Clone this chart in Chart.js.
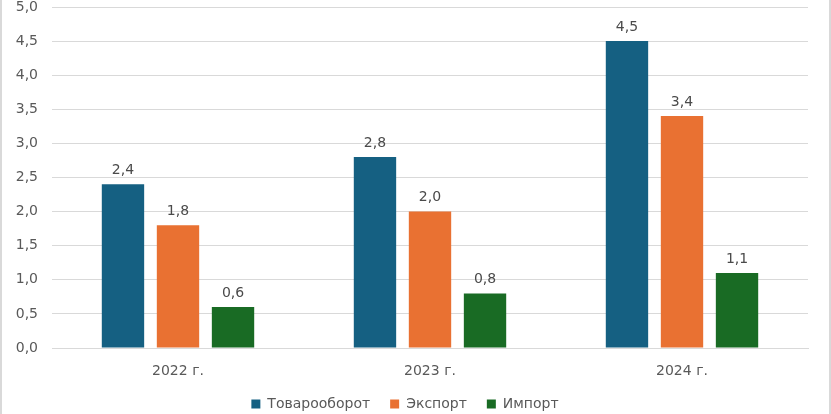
<!DOCTYPE html>
<html>
<head>
<meta charset="utf-8">
<script src="https://cdn.jsdelivr.net/npm/chart.js@4"></script>
<style>
  html, body { margin: 0; padding: 0; background: #fff; }
  #wrap {
    position: relative;
    width: 831px;
    height: 414px;
    box-sizing: border-box;
    border-left: 2px solid #d9d9d9;
    border-right: 2px solid #d9d9d9;
  }
  canvas { display: block; }
</style>
</head>
<body>
<div id="wrap"><canvas id="chart"></canvas></div>
<script>
  // Chart data
  const categories = ['2022 г.', '2023 г.', '2024 г.'];
  const turnover = [2.4, 2.8, 4.5];
  const exportVals = [1.8, 2.0, 3.4];
  const importVals = [0.6, 0.8, 1.1];
  const seriesNames = ['Товарооборот', 'Экспорт', 'Импорт'];

  const FONT = 'DejaVu Sans';
  const TEXT = '#595959';

  const fmt = v => v.toFixed(1).replace('.', ',');

  /**
   * Draw value labels above every bar
   */
  const valueLabels = {
    id: 'valueLabels',
    afterDatasetsDraw(chart) {
      const ctx = chart.ctx;
      ctx.save();
      ctx.font = '14px "' + FONT + '"';
      ctx.fillStyle = '#4a4a4a';
      ctx.textAlign = 'center';
      ctx.textBaseline = 'bottom';
      chart.data.datasets.forEach((ds, i) => {
        chart.getDatasetMeta(i).data.forEach((bar, j) => {
          ctx.fillText(fmt(ds.data[j]), bar.x, bar.y - 7);
        });
      });
      ctx.restore();
    }
  };

  new Chart(document.getElementById('chart'), {
    type: 'bar',
    data: {
      labels: categories,
      datasets: [
        { label: seriesNames[0], data: turnover, backgroundColor: '#156082' },
        { label: seriesNames[1], data: exportVals, backgroundColor: '#E97132' },
        { label: seriesNames[2], data: importVals, backgroundColor: '#196B24' }
      ]
    },
    options: {
      responsive: true,
      maintainAspectRatio: false,
      animation: false,
      datasets: {
        bar: { barPercentage: 0.77, categoryPercentage: 0.655 }
      },
      layout: { padding: { top: 7, right: 21, bottom: -7, left: 0 } },
      scales: {
        y: {
          min: 0,
          max: 5,
          ticks: {
            stepSize: 0.5,
            color: TEXT,
            font: { family: FONT, size: 14 },
            padding: 14,
            callback: v => fmt(v)
          },
          grid: { color: '#d9d9d9', lineWidth: 1, drawTicks: false },
          border: { display: false },
          afterFit: s => {
            s.width = 50;
            s.paddingTop = 0;
            s.paddingBottom = 0;
          }
        },
        x: {
          clip: false,
          ticks: {
            color: TEXT,
            font: { family: FONT, size: 14 },
            padding: 7
          },
          grid: { display: false },
          border: { color: '#d9d9d9' },
          afterFit: s => { s.height = 29; }
        }
      },
      plugins: {
        legend: {
          position: 'bottom',
          labels: {
            color: TEXT,
            font: { family: FONT, size: 14 },
            boxWidth: 9,
            boxHeight: 9,
            padding: 20
          }
        },
        tooltip: { enabled: false }
      }
    },
    plugins: [valueLabels]
  });
</script>
</body>
</html>
